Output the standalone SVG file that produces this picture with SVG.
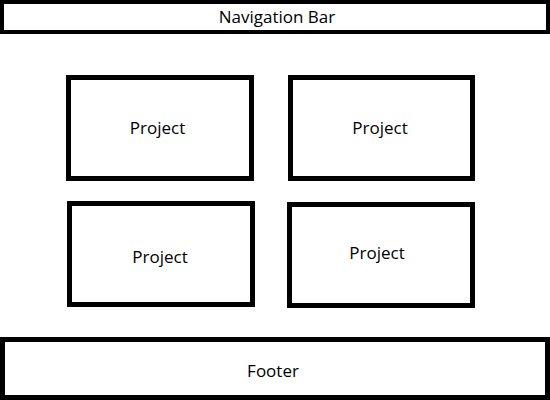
<svg xmlns="http://www.w3.org/2000/svg" width="550" height="400" viewBox="0 0 550 400">
  <style>
    .box { fill: #ffffff; stroke: #000000; stroke-width: 5; }
    .bar { fill: #ffffff; stroke: #000000; stroke-width: 4; }
    .lbl { font-family: "Open Sans", "Noto Sans", "Liberation Sans", sans-serif; font-size: 17px; fill: #000000; text-anchor: middle; }
  </style>
  <rect width="550" height="400" fill="#ffffff"/>
  <g id="nav">
    <rect class="bar" x="2" y="2" width="546" height="30"/>
    <text class="lbl" x="277" y="23">Navigation Bar</text>
  </g>
  <g id="project1">
    <rect class="box" x="68.5" y="77.5" width="183" height="101"/>
    <text class="lbl" x="157.5" y="134">Project</text>
  </g>
  <g id="project2">
    <rect class="box" x="290.5" y="77.5" width="182" height="101"/>
    <text class="lbl" x="380" y="134">Project</text>
  </g>
  <g id="project3">
    <rect class="box" x="69.5" y="203.5" width="183" height="101"/>
    <text class="lbl" x="160" y="263">Project</text>
  </g>
  <g id="project4">
    <rect class="box" x="289.5" y="204.5" width="183" height="101"/>
    <text class="lbl" x="377" y="259">Project</text>
  </g>
  <g id="footer">
    <rect class="box" x="2.5" y="339.5" width="545" height="58"/>
    <text class="lbl" x="273" y="377">Footer</text>
  </g>
  <g id="connectors"></g>
</svg>
